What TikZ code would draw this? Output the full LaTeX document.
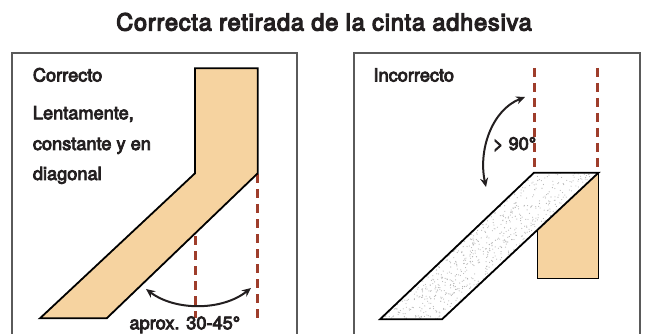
\documentclass[tikz,border=0pt]{standalone}
\usepackage{fontspec}
\setmainfont{TeX Gyre Heros}
\newfontfamily\titlefont{TeX Gyre Heros}[LetterSpace=3.5]
\newcommand\medtxt[1]{\special{pdf:literal direct 2 Tr 0.8 w}#1\special{pdf:literal direct 0 Tr}}
\newcommand\ttltxt[1]{\special{pdf:literal direct 2 Tr 1.2 w}#1\special{pdf:literal direct 0 Tr}}
\usetikzlibrary{arrows.meta}
\definecolor{tan}{HTML}{F6D3A0}
\definecolor{dashred}{HTML}{9E3D2B}
\definecolor{boxgray}{HTML}{5A5A5A}
\definecolor{ink}{HTML}{231F20}
\tikzset{
  frame/.style={draw=boxgray, line width=1.3pt},
  tape/.style={draw=black, line width=1.8pt, line join=miter},
  guide/.style={draw=dashred, line width=3pt, dash pattern=on 9pt off 6pt},
  angarrow/.style={draw=ink, line width=2pt, {Stealth[length=9pt,width=8pt]}-{Stealth[length=9pt,width=8pt]}},
  lbl/.style={anchor=base west, inner sep=0pt, text=ink, font=\fontsize{18.2}{21}\selectfont},
}
\begin{document}
\begin{tikzpicture}[x=1pt,y=-1pt]
\useasboundingbox (0,0) rectangle (651,334);
% title
\node[anchor=base, inner sep=0pt, text=ink, font=\titlefont\fontsize{23.5}{27}\selectfont] (title) at (324,30.5) {\ttltxt{Correcta retirada de la cinta adhesiva}};
% frames
\draw[frame] (12,334) -- (12,53) -- (297,53) -- (297,334);
\draw[frame] (354,334) -- (354,53) -- (640,53) -- (640,334);
% left panel
\coordinate (lg1a) at (195,176);
\coordinate (lg1b) at (195,318);
\coordinate (lg2a) at (257.7,174);
\coordinate (lg2b) at (257.7,320);
\draw[guide] (lg1a) -- (lg1b);
\draw[guide] (lg2a) -- (lg2b);
\filldraw[tape, fill=tan] (195,68.3) -- (257.7,68.3) -- (257.7,173.3) -- (106.7,318.3) -- (40,318.3) -- (195,173.3) -- cycle;
\coordinate (la1) at (146,289);
\coordinate (la2) at (251,288);
\draw[angarrow] (la1) .. controls (175,311) and (222,311) .. (la2);
\node[lbl] (correcto) at (32.7,81.5) {\medtxt{Correcto}};
\node[lbl] (l1) at (32.7,119.3) {\medtxt{Lentamente,}};
\node[lbl] (l2) at (32.7,150) {\medtxt{constante y en}};
\node[lbl] (l3) at (32.7,180) {\medtxt{diagonal}};
\node[lbl] (aprox) at (129.3,329.3) {\medtxt{aprox. 30-45°}};
% right panel
\coordinate (rg1a) at (534,68);
\coordinate (rg1b) at (534,172);
\coordinate (rg2a) at (597.5,68);
\coordinate (rg2b) at (597.5,172);
\draw[guide] (rg1a) -- (rg1b);
\draw[guide] (rg2a) -- (rg2b);
\filldraw[tape, fill=tan] (537.5,172.7) rectangle (598.5,278.5);
\fill[white] (534,172.7) -- (598.5,172.7) -- (442,319.3) -- (380,319.3) -- cycle;
\begin{scope}
\clip (534,172.7) -- (598.5,172.7) -- (442,319.3) -- (380,319.3) -- cycle;
\pgfmathsetseed{11}
\foreach \i in {1,...,650}{
  \pgfmathsetmacro\uu{rnd}
  \pgfmathsetmacro\vv{rnd}
  \pgfmathsetmacro\px{380+\uu*62+\vv*154}
  \pgfmathsetmacro\py{319.3-\vv*146.6}
  \fill[black!30] (\px,\py) circle (0.55);
}
\end{scope}
\draw[tape] (534,172.7) -- (598.5,172.7) -- (442,319.3) -- (380,319.3) -- cycle;
\coordinate (ra1) at (525,97);
\coordinate (ra2) at (486,187);
\draw[angarrow] (ra1) .. controls (492,110) and (478,150) .. (ra2);
\node[lbl] (incorrecto) at (373.3,81.5) {\medtxt{Incorrecto}};
\node[lbl] (ninety) at (492.7,150) {\medtxt{> 90°}};
\end{tikzpicture}
\end{document}
